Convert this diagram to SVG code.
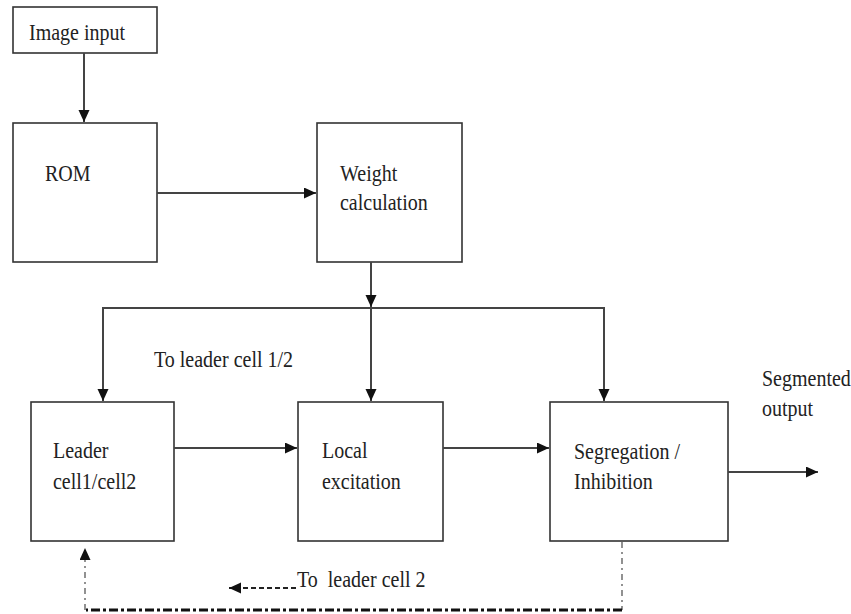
<svg xmlns="http://www.w3.org/2000/svg" width="851" height="614" viewBox="0 0 851 614">
<style>
.box{fill:#fff;stroke:#333;stroke-width:1.6}
.con{fill:none;stroke:#444;stroke-width:2}
.t{font-family:'Liberation Serif','DejaVu Serif',serif;font-size:20px;fill:#222;white-space:pre}
.dd{fill:none;stroke:#111;stroke-width:3;stroke-dasharray:9 3 3 3}
.dv{fill:none;stroke:#777;stroke-width:1.6;stroke-dasharray:6 4 2 4}
.dash{fill:none;stroke:#222;stroke-width:2;stroke-dasharray:5 3}
</style>
<defs>
<marker id="ah" markerUnits="userSpaceOnUse" markerWidth="13" markerHeight="12" refX="12" refY="5.5" orient="auto">
<path d="M0,0 L12,5.5 L0,11 z" fill="#111"/>
</marker>
</defs>
<g id="image-input"><rect class="box" x="13" y="7" width="144" height="46"/><text class="t" font-family="Liberation Serif, serif" transform="translate(29,40) scale(1,1.15)">Image input</text></g>
<g id="rom"><rect class="box" x="13" y="123" width="144" height="139"/><text class="t" transform="translate(45,181) scale(1,1.15)">ROM</text></g>
<g id="weight"><rect class="box" x="317" y="123" width="145" height="139"/><text class="t" transform="translate(340,181) scale(1,1.15)">Weight</text><text class="t" transform="translate(340,210) scale(1,1.15)">calculation</text></g>
<g id="leader"><rect class="box" x="31" y="402" width="143" height="139"/><text class="t" transform="translate(53,458) scale(1,1.15)">Leader</text><text class="t" transform="translate(53,489) scale(1,1.15)">cell1/cell2</text></g>
<g id="local"><rect class="box" x="298" y="402" width="145" height="139"/><text class="t" transform="translate(322,458) scale(1,1.15)">Local</text><text class="t" transform="translate(322,489) scale(1,1.15)">excitation</text></g>
<g id="segregation"><rect class="box" x="550" y="402" width="178" height="139"/><text class="t" transform="translate(574,459) scale(1,1.15)">Segregation /</text><text class="t" transform="translate(574,489) scale(1,1.15)">Inhibition</text></g>
<g id="labels">
<text class="t" transform="translate(154,367) scale(1,1.15)">To leader cell 1/2</text>
<text class="t" transform="translate(762,386) scale(1,1.15)">Segmented</text>
<text class="t" transform="translate(762,416) scale(1,1.15)">output</text>
<text class="t" transform="translate(297,587) scale(1,1.15)">To  leader cell 2</text>
</g>
<g id="connectors">
<line class="con" x1="84" y1="53" x2="84" y2="122" marker-end="url(#ah)"/>
<line class="con" x1="157" y1="193" x2="316" y2="193" marker-end="url(#ah)"/>
<line class="con" x1="371" y1="262" x2="371" y2="307" marker-end="url(#ah)"/>
<polyline class="con" points="103,401 103,308 604,308 604,401" marker-end="url(#ah)"/>
<line class="con" x1="103" y1="330" x2="103" y2="401" marker-end="url(#ah)"/>
<line class="con" x1="371" y1="308" x2="371" y2="401" marker-end="url(#ah)"/>
<line class="con" x1="174" y1="448" x2="297" y2="448" marker-end="url(#ah)"/>
<line class="con" x1="443" y1="448" x2="549" y2="448" marker-end="url(#ah)"/>
<line class="con" x1="728" y1="472" x2="818" y2="472" marker-end="url(#ah)"/>
<line class="dash" x1="296" y1="588" x2="229" y2="588" marker-end="url(#ah)"/>
<line class="dv" x1="622" y1="542" x2="622" y2="610"/>
<line class="dd" x1="622" y1="610" x2="86" y2="610"/>
<line class="dv" x1="85" y1="610" x2="85" y2="548" marker-end="url(#ah)"/>
</g>
</svg>
